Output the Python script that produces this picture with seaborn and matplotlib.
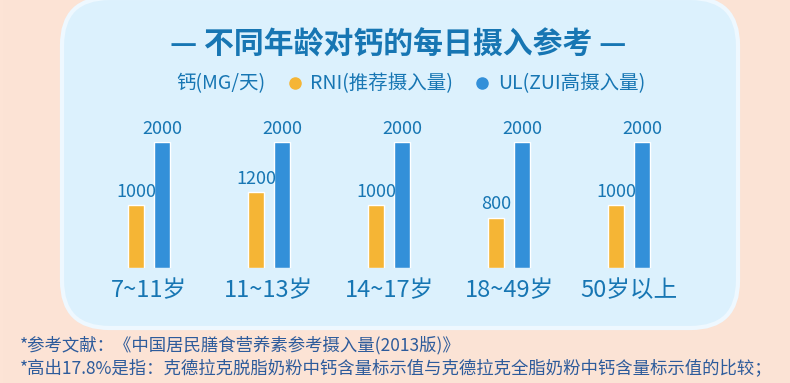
import numpy as np
import pandas as pd
import matplotlib
matplotlib.use("Agg")
import matplotlib.pyplot as plt
import seaborn as sns
from matplotlib.patches import FancyBboxPatch
from matplotlib.lines import Line2D

# data
ages = ["7~11岁", "11~13岁", "14~17岁", "18~49岁", "50岁以上"]
rni = [1000, 1200, 1000, 800, 1000]
ul = [2000, 2000, 2000, 2000, 2000]
series = ["RNI(推荐摄入量)", "UL(ZUI高摄入量)"]
title = "— 不同年龄对钙的每日摄入参考 —"
unit_label = "钙(MG/天)"
notes = [
    "*参考文献：《中国居民膳食营养素参考摄入量(2013版)》",
    "*高出17.8%是指：克德拉克脱脂奶粉中钙含量标示值与克德拉克全脂奶粉中钙含量标示值的比较；",
]

ORANGE = "#f5b535"
BLUE = "#3390d9"
TXT = "#1776b3"
NOTE = "#2d5b9b"

df = pd.DataFrame({
    "age": ages * 2,
    "value": rni + ul,
    "type": [series[0]] * len(ages) + [series[1]] * len(ages),
})

sns.set_theme(style="white")
plt.rcParams["font.family"] = ["Noto Sans CJK SC", "DejaVu Sans"]

W, H = 790, 383
fig = plt.figure(figsize=(7.9, 3.83), dpi=100)

# peach background + rounded light-blue panel
bg = fig.add_axes([0, 0, 1, 1], zorder=-10)
grad = np.linspace(0, 1, 256)[None, :]
bg.imshow(grad, extent=[0, 1, 0, 1], aspect="auto",
          cmap=matplotlib.colors.LinearSegmentedColormap.from_list("p", ["#fde4d6", "#fbe3d5"]))
bg.set_xlim(0, 1); bg.set_ylim(0, 1); bg.axis("off")
box = FancyBboxPatch((62 / W, 1 - 328 / H), (738 - 62) / W, 330 / H,
                     boxstyle="round,pad=0,rounding_size=0.06",
                     mutation_aspect=W / H,
                     transform=bg.transAxes, facecolor="#dcf1fd",
                     edgecolor="#eef8ff", linewidth=3)
bg.add_patch(box)

ax = fig.add_axes([89 / W, 1 - 267.7 / H, 600 / W, 125.4 / H])
sns.barplot(data=df, x="age", y="value", hue="type", palette=[ORANGE, BLUE],
            width=0.433, gap=0.385, ax=ax, legend=False, saturation=1)
ax.set_xlim(-0.5, len(ages) - 0.5)
ax.set_ylim(0, 2000)
for c in ax.containers:
    ax.bar_label(c, padding=3, fontsize=13, color=TXT, clip_on=False)
ax.set_xlabel(""); ax.set_ylabel("")
ax.set_yticks([])
ax.tick_params(axis="x", length=0, pad=8, labelsize=17, labelcolor=TXT)
ax.patch.set_alpha(0)
sns.despine(ax=ax, left=True, bottom=True)

fig.text(398 / W, 1 - 45 / H, title, ha="center", va="center",
         fontsize=21.5, fontweight="bold", color=TXT)

handles = [Line2D([], [], linestyle="none"),
           Line2D([], [], linestyle="none", marker="o", markersize=8, color=ORANGE),
           Line2D([], [], linestyle="none", marker="o", markersize=8, color=BLUE)]
fig.legend(handles, [unit_label] + series, loc="center", ncol=3,
           bbox_to_anchor=(400 / W, 1 - 84 / H), frameon=False,
           handlelength=0.6, handletextpad=0.5, columnspacing=1.2,
           prop={"size": 14}, labelcolor=TXT)

for i, t in enumerate(notes):
    fig.text(20 / W, 1 - (345 + 23 * i) / H, t, ha="left", va="center",
             fontsize=12.5, color=NOTE)

fig.savefig("out.png", dpi=100)
